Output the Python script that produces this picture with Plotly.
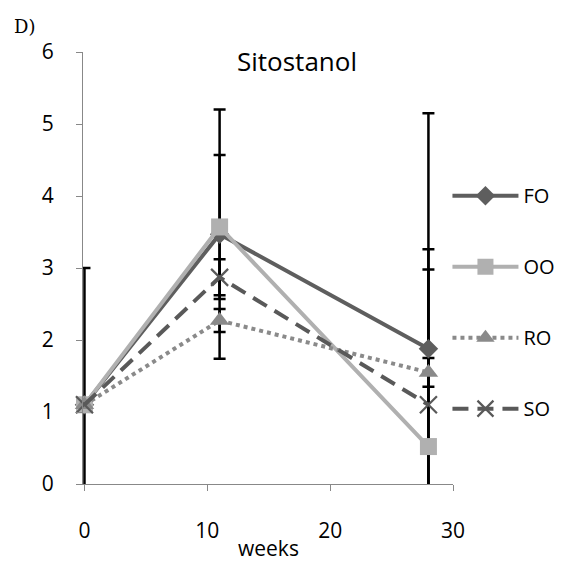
import plotly.graph_objects as go

weeks = [0, 11, 28]
series_names = ["FO", "OO", "RO", "SO"]
FO = [1.1, 3.47, 1.88]
OO = [1.1, 3.57, 0.52]
RO = [1.1, 2.27, 1.55]
SO = [1.1, 2.87, 1.10]
FO_err = [1.9, 1.73, 3.27]
OO_err = [0.05, 1.0, 2.74]
RO_err = [0.05, 0.16, 0.2]
SO_err = [0.05, 0.25, 1.88]
y_ticks = [0, 1, 2, 3, 4, 5, 6]
x_ticks = [0, 10, 20, 30]

values = {"FO": FO, "OO": OO, "RO": RO, "SO": SO}
errors = {"FO": FO_err, "OO": OO_err, "RO": RO_err, "SO": SO_err}
styles = {
    "FO": dict(color="#5e5e5e", dash="solid", symbol="diamond", size=15),
    "OO": dict(color="#b0b0b0", dash="solid", symbol="square", size=17),
    "RO": dict(color="#8a8a8a", dash="dot", symbol="triangle-up", size=17),
    "SO": dict(color="#595959", dash="16px,9px", symbol="x-thin", size=17),
}

FONT = "Open Sans"
fig = go.Figure()

# error bars (drawn beneath the lines)
for name in series_names:
    fig.add_trace(go.Scatter(
        x=weeks, y=values[name], mode="markers",
        marker=dict(opacity=0, size=1),
        error_y=dict(type="data", array=errors[name], symmetric=True,
                     color="black", thickness=2.5, width=6),
        showlegend=False, hoverinfo="skip", cliponaxis=True,
    ))

for i, name in enumerate(series_names):
    s = styles[name]
    marker = dict(symbol=s["symbol"], size=s["size"], color=s["color"])
    if s["symbol"] == "x-thin":
        marker["line"] = dict(color=s["color"], width=2.2)
    fig.add_trace(go.Scatter(
        x=weeks, y=values[name], mode="lines+markers", name=name,
        line=dict(color=s["color"], width=4, dash=s["dash"]),
        marker=marker, cliponaxis=False, legendgroup=name,
    ))

fig.update_layout(
    width=566, height=561,
    margin=dict(l=83, r=113, t=52, b=77, autoexpand=False),
    paper_bgcolor="white", plot_bgcolor="white",
    font=dict(family=FONT, size=20, color="black"),
    showlegend=True,
    legend=dict(x=0.985, y=0.421, xanchor="left", yanchor="middle",
                font=dict(size=20, family=FONT), tracegroupgap=42,
                itemwidth=66, bgcolor="rgba(0,0,0,0)"),
    xaxis=dict(range=[-0.12, 30], tickvals=x_ticks, showgrid=False, zeroline=False,
               showline=True, linecolor="#888888", linewidth=1.3,
               ticks="outside", ticklen=6, tickcolor="#888888",
               ticklabelstandoff=22, automargin=False,
               tickfont=dict(size=21)),
    yaxis=dict(range=[0, 6], tickvals=y_ticks, showgrid=False, zeroline=False,
               showline=True, linecolor="#888888", linewidth=1.3,
               ticks="outside", ticklen=6, tickcolor="#888888",
               ticklabelstandoff=18, automargin=False,
               tickfont=dict(size=21)),
    title=dict(text="Sitostanol", x=297 / 566, y=1 - 62 / 561, xanchor="center",
               yanchor="middle", font=dict(size=26, family=FONT)),
    annotations=[
        dict(text="D)", xref="paper", yref="paper", x=-83 / 370 + 12 / 370,
             y=1 + 26 / 432, xanchor="left", yanchor="middle",
             showarrow=False, font=dict(family="DejaVu Serif", size=18)),
        dict(text="weeks", xref="paper", yref="paper", x=(268 - 83) / 370,
             y=-(548 - 484) / 432, xanchor="center", yanchor="middle",
             showarrow=False, font=dict(family=FONT, size=21)),
    ],
)

fig.write_html("out.html")
